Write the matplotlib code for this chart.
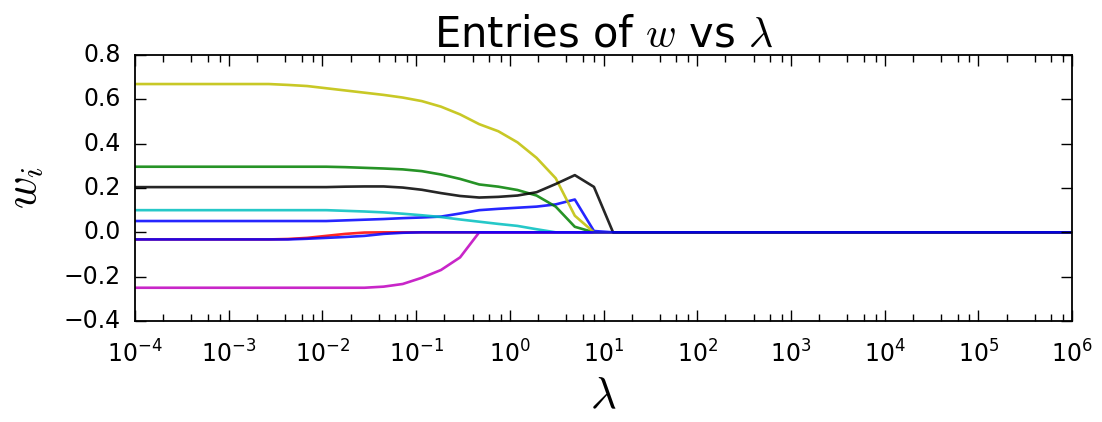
import numpy as np
import matplotlib
matplotlib.use("Agg")
import matplotlib.pyplot as plt
from matplotlib.ticker import FixedLocator, FuncFormatter, NullFormatter

plt.style.use("classic")

# lambda grid: 50 log-spaced points between 1e-4 and 1e6
lam_exp_min, lam_exp_max, n_lam = -4, 6, 50
lambdas = np.logspace(lam_exp_min, lam_exp_max, n_lam)

def pad(vals):
    return list(vals) + [0.0] * (n_lam - len(vals))

w_blue = pad([0.051] * 11 + [0.054, 0.057, 0.060, 0.064, 0.067, 0.071, 0.085,
                             0.100, 0.106, 0.111, 0.116, 0.126, 0.148, 0.006])
w_green = pad([0.296] * 11 + [0.294, 0.291, 0.288, 0.284, 0.276, 0.261, 0.241,
                              0.216, 0.206, 0.191, 0.166, 0.116, 0.025])
w_red = pad([-0.032] * 8 + [-0.030, -0.025, -0.016, -0.007, -0.001])
w_cyan = pad([0.100] * 11 + [0.097, 0.094, 0.090, 0.084, 0.077, 0.069, 0.058,
                             0.048, 0.038, 0.029, 0.014])
w_magenta = pad([-0.250] * 13 + [-0.245, -0.233, -0.205, -0.170, -0.113])
w_yellow = pad([0.669] * 8 + [0.665, 0.660, 0.650, 0.640, 0.630, 0.620, 0.608,
                             0.592, 0.567, 0.532, 0.488, 0.456, 0.406, 0.336,
                             0.244, 0.075])
w_black = pad([0.204] * 11 + [0.206, 0.207, 0.207, 0.202, 0.192, 0.177, 0.164,
                              0.157, 0.160, 0.166, 0.181, 0.218, 0.258, 0.205])
w_blue2 = pad([-0.032] * 9 + [-0.029, -0.025, -0.021, -0.016, -0.007, -0.002])

series = [w_blue, w_green, w_red, w_cyan, w_magenta, w_yellow, w_black, w_blue2]
colors = ["b", "g", "r", "c", "m", "y", "k", "b"]

fig = plt.figure(figsize=(11.02, 4.22), dpi=100, facecolor="white")
ax = fig.add_axes([135 / 1102, 1 - 321 / 422, (1072 - 135) / 1102, (321 - 55) / 422])

for w, c in zip(series, colors):
    ax.plot(lambdas, w, color=c, lw=1.9, alpha=0.85)

ax.set_xscale("log")
ax.set_xlim(1e-4, 1e6)
ax.set_ylim(-0.4, 0.8)
ax.set_yticks(np.arange(-0.4, 0.81, 0.2))
ax.yaxis.set_major_formatter(FuncFormatter(lambda v, p: f"{v:.1f}".replace("-", "\u2212")))
minor_pos = [s * 10.0 ** d for d in range(lam_exp_min, lam_exp_max) for s in (2, 4, 6, 8)]
ax.xaxis.set_minor_locator(FixedLocator(minor_pos))
ax.xaxis.set_minor_formatter(NullFormatter())

ax.tick_params(which="major", length=8, width=1, labelsize=17, direction="in")
ax.tick_params(which="minor", length=5, width=1, direction="in")
ax.tick_params(axis="y", pad=10)
ax.tick_params(axis="x", pad=14)
for s in ax.spines.values():
    s.set_linewidth(1.3)

ax.set_title(r"Entries of $w$ vs $\lambda$", fontsize=30, pad=6)
ax.set_xlabel(r"$\lambda$", fontsize=32, labelpad=5)
ax.set_ylabel(r"$w_i$", fontsize=32, labelpad=14)

fig.savefig("out.png", dpi=100, facecolor="white")
